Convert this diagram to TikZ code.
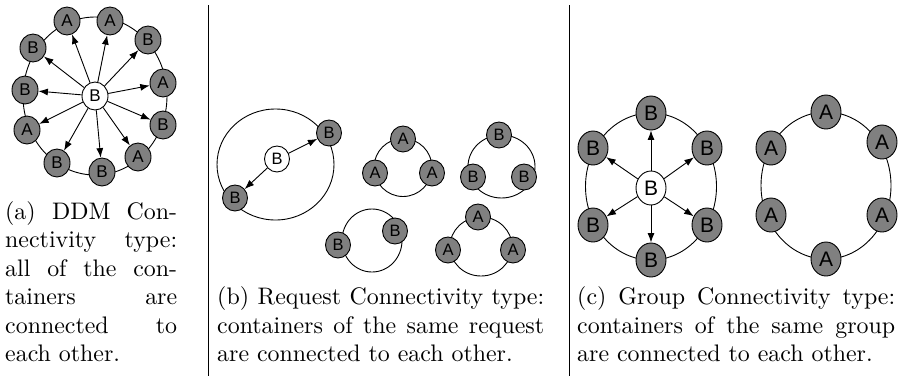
\documentclass[tikz,border=0pt]{standalone}
\usepackage{fontspec}
\usetikzlibrary{shapes.geometric,arrows.meta}
\newfontfamily\capfont{lmroman10-regular}[Extension=.otf]
\newfontfamily\lblfont{Liberation Sans}
\definecolor{nodegray}{HTML}{808080}

\tikzset{
  ctn/.style={ellipse, draw, line width=0.9pt, inner sep=0pt, fill=nodegray},
  hub/.style={ctn, fill=white},
  sizea/.style={minimum width=26pt, minimum height=28pt, font=\lblfont\fontsize{17}{17}\selectfont},
  sizeb/.style={minimum width=25pt, minimum height=26pt, font=\lblfont\fontsize{16.5}{16.5}\selectfont},
  sizec/.style={minimum width=30pt, minimum height=34pt, font=\lblfont\fontsize{21}{21}\selectfont},
  ring/.style={draw, line width=0.9pt},
  link/.style={line width=0.9pt, -{Latex[length=9.5pt,width=7pt]}},
  sep/.style={line width=1pt},
  caption/.style={anchor=base west, inner sep=0pt, align=justify,
    font=\capfont\fontsize{23.9}{28.5}\selectfont},
}

\begin{document}
\begin{tikzpicture}[x=1pt, y=-1pt]
\useasboundingbox (0,0) rectangle (901,376);

% column separators
\coordinate (s1t) at (208,5);  \coordinate (s1b) at (208,376);
\coordinate (s2t) at (569,5);  \coordinate (s2b) at (569,376);
\draw[sep] (s1t) -- (s1b);
\draw[sep] (s2t) -- (s2b);

% ---------- (a) all containers connected ----------
\draw[ring] (95,96) ellipse [x radius=72, y radius=79];
\node[hub, sizea] (a0) at (95,96) {B};
\foreach \px/\py/\t [count=\i] in {67/21/A, 110/21/A, 148/40/B, 163/83/A,
    163/125/B, 138/157/A, 102/172/B, 57/163/B, 27/130/A, 25/90/B, 33/48/B} {
  \node[ctn, sizea] (a\i) at (\px,\py) {\t};
  \draw[link] (a0) -- (a\i);
}

% ---------- (b) per-request rings ----------
\draw[ring] (275.5,164.5) ellipse [x radius=58.5, y radius=55.5];
\node[hub, sizeb] (b0) at (277,159) {B};
\node[ctn, sizeb] (b1) at (329,133) {B};
\node[ctn, sizeb] (b2) at (235,198) {B};
\draw[link] (b0) -- (b1);
\draw[link] (b0) -- (b2);

\draw[ring] (403,167.5) circle [radius=29];
\node[ctn, sizeb] (ra1) at (403,139) {A};
\node[ctn, sizeb] (ra2) at (375,173) {A};
\node[ctn, sizeb] (ra3) at (432,173) {A};

\draw[ring] (501.5,166.5) ellipse [x radius=33.5, y radius=31.5];
\node[ctn, sizeb] (rb1) at (499,135) {B};
\node[ctn, sizeb] (rb2) at (473,177) {B};
\node[ctn, sizeb] (rb3) at (524,177) {B};

\draw[ring] (372,240.5) ellipse [x radius=30, y radius=31.5];
\node[ctn, sizeb] (rc1) at (338,245) {B};
\node[ctn, sizeb] (rc2) at (395,231) {B};

\draw[ring] (481,246.5) ellipse [x radius=31, y radius=29.5];
\node[ctn, sizeb] (rd1) at (478,217) {A};
\node[ctn, sizeb] (rd2) at (448,250) {A};
\node[ctn, sizeb] (rd3) at (513,250) {A};

% ---------- (c) per-group rings ----------
\draw[ring] (651,186.5) ellipse [x radius=65.5, y radius=73.5];
\node[hub, sizec] (c0) at (651,188) {B};
\foreach \px/\py [count=\i] in {651/113, 707/148, 707/225, 651/260, 593/225, 593/148} {
  \node[ctn, sizec] (c\i) at (\px,\py) {B};
  \draw[link] (c0) -- (c\i);
}

\draw[ring] (826,185.5) ellipse [x radius=65, y radius=73.5];
\foreach \px/\py [count=\i] in {826/112, 882/142, 882/215, 826/259, 771/215, 771/148} {
  \node[ctn, sizec] (g\i) at (\px,\py) {A};
}

% ---------- captions ----------
\node[caption, text width=172pt] (capa) at (5,219)
  {(a) DDM Con-\linebreak nectivity type:\linebreak all of the con-\linebreak
   tainers are\linebreak connected to\linebreak each other.};
\node[caption, text width=327pt] (capb) at (217,304.5)
  {(b) Request Connectivity type:\linebreak containers of the same request\linebreak
   are connected to each other.};
\node[caption, text width=318pt] (capc) at (577,304.5)
  {(c) Group Connectivity type:\linebreak containers of the same group\linebreak
   are connected to each other.};
\end{tikzpicture}
\end{document}
